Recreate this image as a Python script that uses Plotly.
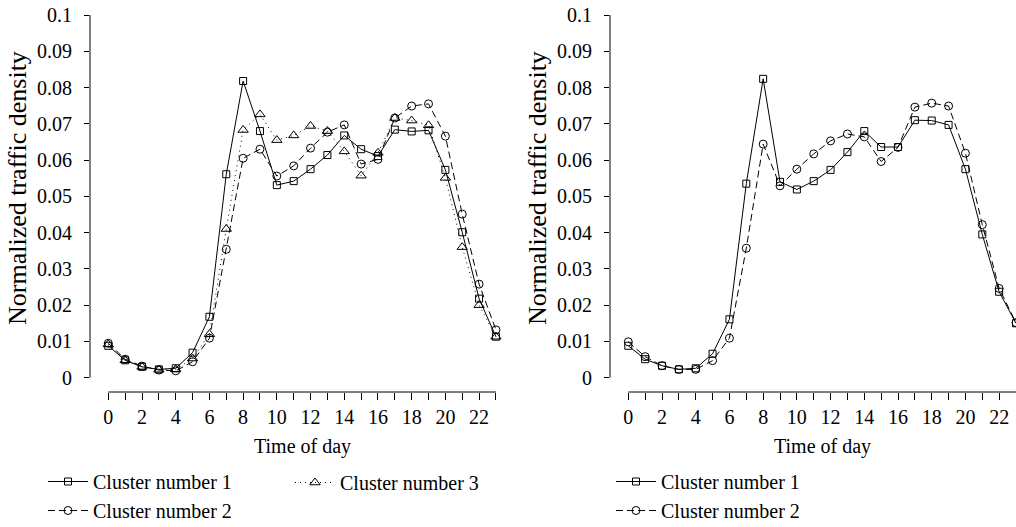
import plotly.graph_objects as go

W, H = 1016, 527

hours = list(range(24))
x_tick_vals = list(range(24))
x_tick_text = [str(h) if h % 2 == 0 else "" for h in hours]
y_tick_vals = [0, 0.01, 0.02, 0.03, 0.04, 0.05, 0.06, 0.07, 0.08, 0.09, 0.1]
y_tick_text = ["0", "0.01", "0.02", "0.03", "0.04", "0.05", "0.06", "0.07", "0.08", "0.09", "0.1"]

left_c1 = [0.0088, 0.0048, 0.0030, 0.0023, 0.0026, 0.0069, 0.0168, 0.0561, 0.0818, 0.0680,
           0.0531, 0.0542, 0.0575, 0.0614, 0.0668, 0.0630, 0.0611, 0.0684, 0.0679, 0.0682,
           0.0573, 0.0401, 0.0218, 0.0113]
left_c2 = [0.0095, 0.0051, 0.0032, 0.0021, 0.0019, 0.0044, 0.0109, 0.0354, 0.0605, 0.0630,
           0.0556, 0.0584, 0.0633, 0.0677, 0.0697, 0.0589, 0.0602, 0.0716, 0.0749, 0.0755,
           0.0666, 0.0451, 0.0258, 0.0132]
left_c3 = [0.0092, 0.0048, 0.0030, 0.0022, 0.0023, 0.0053, 0.0120, 0.0410, 0.0683, 0.0726,
           0.0655, 0.0668, 0.0694, 0.0680, 0.0624, 0.0557, 0.0620, 0.0716, 0.0709, 0.0696,
           0.0551, 0.0360, 0.0200, 0.0113]

right_c1 = [0.0088, 0.0051, 0.0033, 0.0023, 0.0026, 0.0066, 0.0161, 0.0535, 0.0824, 0.0540,
            0.0519, 0.0542, 0.0573, 0.0622, 0.0680, 0.0636, 0.0636, 0.0710, 0.0709, 0.0697,
            0.0575, 0.0395, 0.0237, 0.0150]
right_c2 = [0.0099, 0.0058, 0.0033, 0.0023, 0.0023, 0.0047, 0.0109, 0.0357, 0.0644, 0.0529,
            0.0575, 0.0617, 0.0653, 0.0672, 0.0664, 0.0596, 0.0635, 0.0746, 0.0757, 0.0749,
            0.0619, 0.0422, 0.0246, 0.0152]

names = ["Cluster number 1", "Cluster number 2", "Cluster number 3"]

FONT = "Liberation Serif"
FS = 20

styles = {
    0: dict(dash="solid", symbol="square-open", size=7),
    1: dict(dash="7px,4px", symbol="circle-open", size=8),
    2: dict(dash="1px,4px", symbol="triangle-up-open", size=9),
}

fig = go.Figure()

def add(series, idx, xa, ya, legend):
    st = styles[idx]
    fig.add_trace(go.Scatter(
        x=hours, y=series, mode="lines+markers", name=names[idx],
        xaxis=xa, yaxis=ya, legend=legend, cliponaxis=False,
        line=dict(color="black", width=1, dash=st["dash"]),
        marker=dict(symbol=st["symbol"], size=st["size"], color="black",
                    line=dict(color="black", width=1)),
    ))

add(left_c3, 2, "x", "y", "legend2")
add(left_c2, 1, "x", "y", "legend")
add(left_c1, 0, "x", "y", "legend")
add(right_c2, 1, "x2", "y2", "legend3")
add(right_c1, 0, "x2", "y2", "legend3")

ydom = [1 - 392 / H, 1 - 15 / H]
yrange = [-0.00394, 0.1]

common_x = dict(showgrid=False, zeroline=False, showline=False, ticks="outside",
                ticklen=7, tickwidth=1, tickcolor="black",
                tickvals=x_tick_vals, ticktext=x_tick_text, ticklabelstandoff=0,
                tickfont=dict(family=FONT, size=FS, color="black"))
common_y = dict(showgrid=False, zeroline=False, showline=False, ticks="outside",
                ticklen=5, tickwidth=1, tickcolor="black",
                tickvals=y_tick_vals, ticktext=y_tick_text, ticklabelstandoff=8,
                range=yrange, domain=ydom,
                tickfont=dict(family=FONT, size=FS, color="black"))

leg_common = dict(orientation="v", bgcolor="rgba(0,0,0,0)", borderwidth=0,
                  font=dict(family=FONT, size=FS, color="black"), itemwidth=40)

fig.update_layout(
    width=W, height=H, margin=dict(l=0, r=0, t=0, b=0, autoexpand=False),
    paper_bgcolor="white", plot_bgcolor="white",
    font=dict(family=FONT, size=FS, color="black"),
    xaxis=dict(domain=[90 / W, 501 / W], range=[-1.085, 23.3], anchor="y", **common_x),
    yaxis=dict(anchor="x", **common_y),
    xaxis2=dict(domain=[610 / W, 1.0], range=[-1.085, 23.0], anchor="y2", **common_x),
    yaxis2=dict(anchor="x2", **common_y),
    legend=dict(x=43 / W, y=-3 / H, xanchor="left", yanchor="bottom",
                traceorder="reversed", tracegroupgap=0, **leg_common),
    legend2=dict(x=290 / W, y=1 - 463 / H, xanchor="left", yanchor="top", **leg_common),
    legend3=dict(x=611 / W, y=-3 / H, xanchor="left", yanchor="bottom",
                 traceorder="reversed", tracegroupgap=0, **leg_common),
    showlegend=True,
)

# detached axis lines and titles
for xa, ya, xstart in [("x", "y", 90), ("x2", "y2", 610)]:
    fig.add_shape(type="line", xref="paper", yref=ya, x0=xstart / W, x1=xstart / W,
                  y0=0, y1=0.1, line=dict(color="black", width=1))
    fig.add_shape(type="line", xref=xa, yref="paper", x0=0, x1=23,
                  y0=1 - 392 / H, y1=1 - 392 / H, line=dict(color="black", width=1))
    fig.add_annotation(text="Time of day", xref=xa, yref="paper", x=11.5, y=1 - 446 / H,
                       xanchor="center", yanchor="middle", showarrow=False,
                       font=dict(family=FONT, size=FS, color="black"))
    fig.add_annotation(text="Normalized traffic density", xref="paper", yref="paper",
                       x=(xstart - 72) / W, y=1 - 188 / H, textangle=-90,
                       xanchor="center", yanchor="middle", showarrow=False,
                       font=dict(family=FONT, size=26, color="black"))

fig.write_html("out.html")
